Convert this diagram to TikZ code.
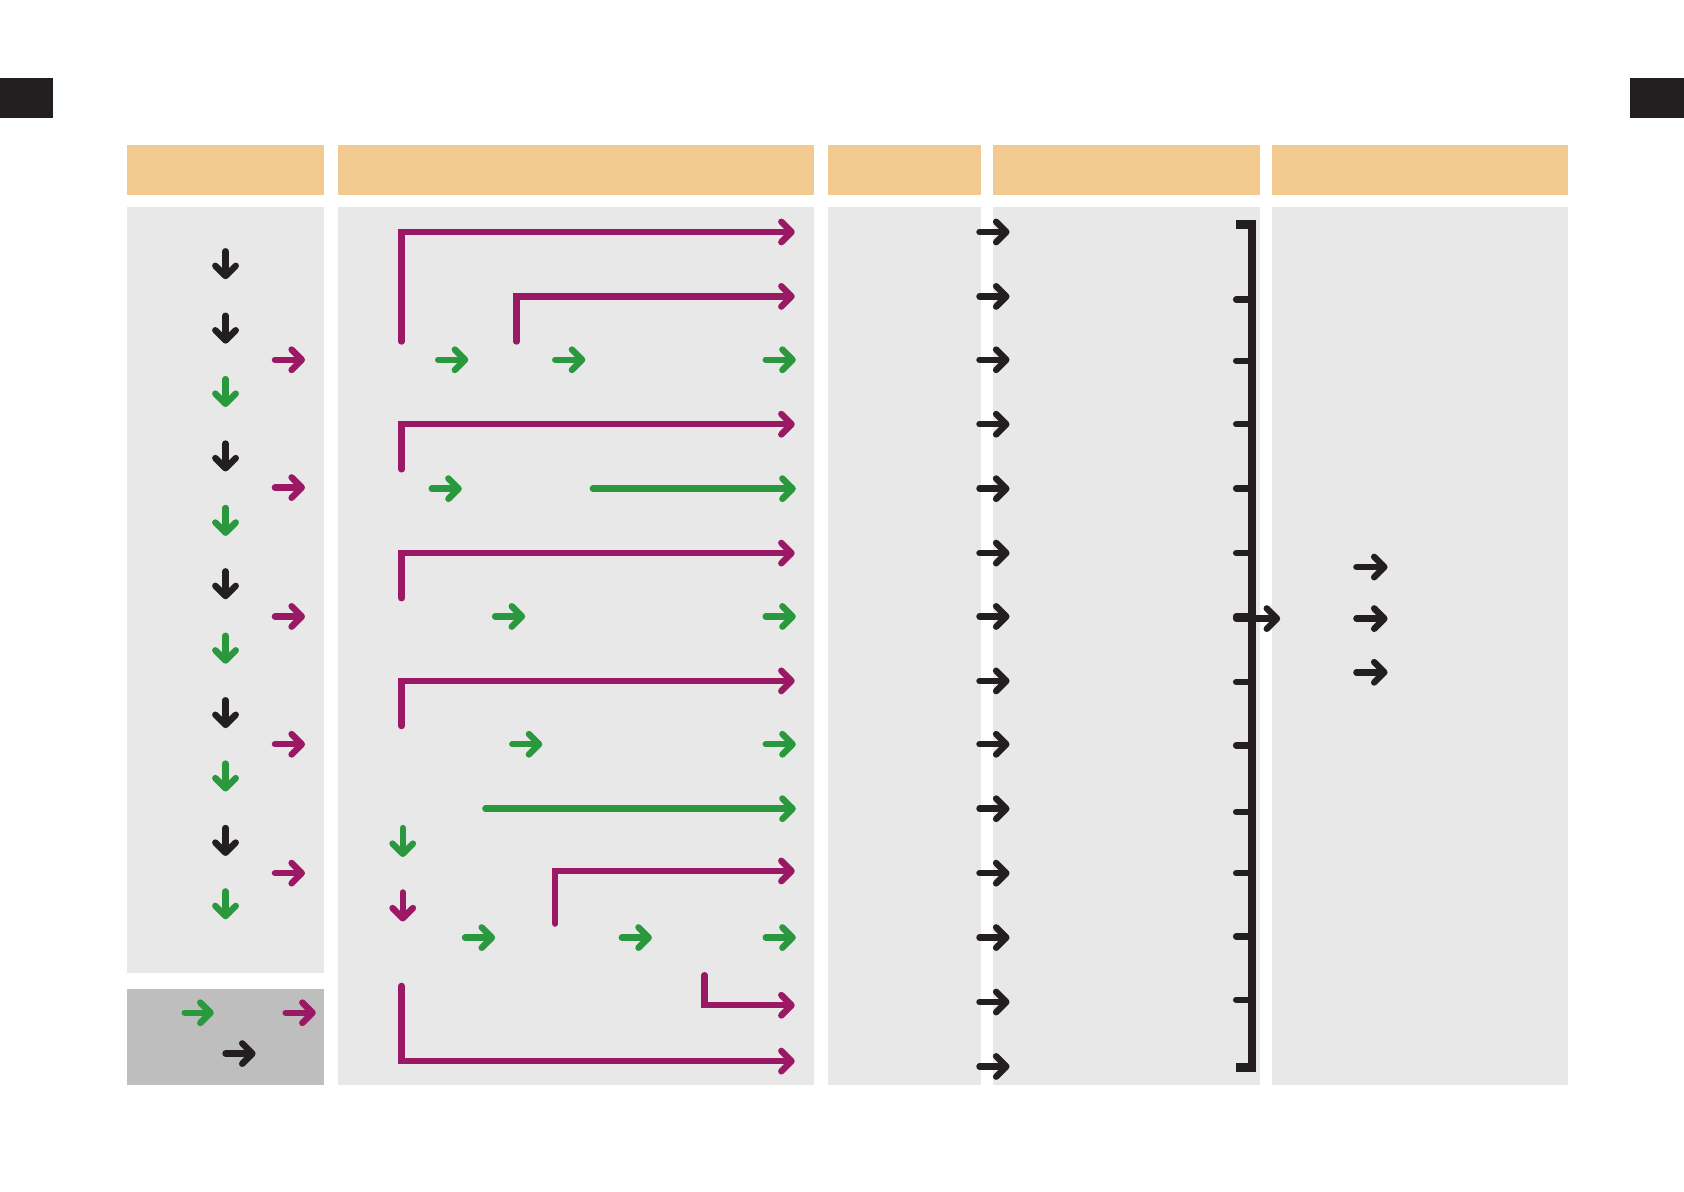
\documentclass[tikz,border=0pt]{standalone}
\usepackage{xcolor}
\definecolor{tlorange}{RGB}{242,202,143}
\definecolor{tlgray}{RGB}{232,232,232}
\definecolor{tldark}{RGB}{190,190,190}
\definecolor{tlmagenta}{RGB}{155,25,100}
\definecolor{tlgreen}{RGB}{42,153,62}
\definecolor{tlblack}{RGB}{35,31,32}
\usetikzlibrary{arrows.meta,positioning,calc}

\begin{document}
\begin{tikzpicture}[x=0.01cm,y=-0.01cm,
  hdr/.style={fill=tlorange},
  panel/.style={fill=tlgray},
  arr/.style={line width=1.7pt,line cap=round,
    -{Straight Barb[length=0.95mm,width=1.9mm,round]}},
  mag/.style={arr,draw=tlmagenta},
  grn/.style={arr,draw=tlgreen},
  blk/.style={arr,draw=tlblack}
]
  \useasboundingbox (0,0) rectangle (1568,1109);
  % corner marks
  \fill[tlblack] (0,73) rectangle (49,110);
  \fill[tlblack] (1518,73) rectangle (1568,110);
  % headers
  \fill[hdr] (118,135) rectangle (302,182);
  \fill[hdr] (315,135) rectangle (758,182);
  \fill[hdr] (771,135) rectangle (913,182);
  \fill[hdr] (925,135) rectangle (1173,182);
  \fill[hdr] (1184,135) rectangle (1460,182);
  % panels
  \fill[panel] (118,193) rectangle (302,906);
  \fill[tldark] (118,921) rectangle (302,1010);
  \fill[panel] (315,193) rectangle (758,1010);
  \fill[panel] (771,193) rectangle (913,1010);
  \fill[panel] (925,193) rectangle (1173,1010);
  \fill[panel] (1184,193) rectangle (1460,1010);

  % first column: steps
  \foreach \yy/\cc in {247/blk,307/blk,366/grn,426/blk,486/grn,545/blk,605/grn,665/blk,724/grn,784/blk,843/grn}
    \draw[\cc] (210,\yy-13) -- (210,\yy+13);
  \foreach \yy in {335,454,574,693,813}
    \draw[mag] (256,\yy) -- (284,\yy);
  % legend
  \draw[grn] (172,943) -- (199,943);
  \draw[mag] (266,943) -- (294,943);
  \draw[blk] (210,981) -- (238,981);

  % second column
  \draw[mag] (374,318) |- (740,216);
  \draw[mag] (481,318) |- (740,276);
  \draw[grn] (408,335) -- (436,335);
  \draw[grn] (517,335) -- (545,335);
  \draw[grn] (713,335) -- (741,335);
  \draw[mag] (374,437) |- (740,395);
  \draw[grn] (402,455) -- (430,455);
  \draw[grn] (552,455) -- (741,455);
  \draw[mag] (374,557) |- (740,515);
  \draw[grn] (461,574) -- (489,574);
  \draw[grn] (713,574) -- (741,574);
  \draw[mag] (374,676) |- (740,634);
  \draw[grn] (477,693) -- (505,693);
  \draw[grn] (713,693) -- (741,693);
  \draw[grn] (452,753) -- (741,753);
  \draw[grn] (375,771) -- (375,798);
  \draw[mag] (375,831) -- (375,858);
  \draw[mag] (517,860) |- (740,811);
  \draw[grn] (433,873) -- (461,873);
  \draw[grn] (579,873) -- (607,873);
  \draw[grn] (713,873) -- (741,873);
  \draw[mag] (656,908) |- (740,936);
  \draw[mag] (374,918) |- (740,988);

  % fourth column: inputs and bracket
  \foreach \yy in {216,276,335,395,455,515,574,634,693,753,813,873,933,993}
    \draw[blk] (912,\yy) -- (940,\yy);
  \draw[tlblack,line width=2.2pt] (1151,209) -- (1166,209) -- (1166,994) -- (1151,994);
  \foreach \yy in {279,336,395,455,515,574,635,694,756,813,872,931}
    \draw[tlblack,line width=1.7pt,line cap=round] (1151,\yy) -- (1166,\yy);
  \draw[blk] (1151,576) -- (1192,576);

  % fifth column
  \foreach \yy in {528,576,626}
    \draw[blk] (1263,\yy) -- (1292,\yy);
\end{tikzpicture}
\end{document}
